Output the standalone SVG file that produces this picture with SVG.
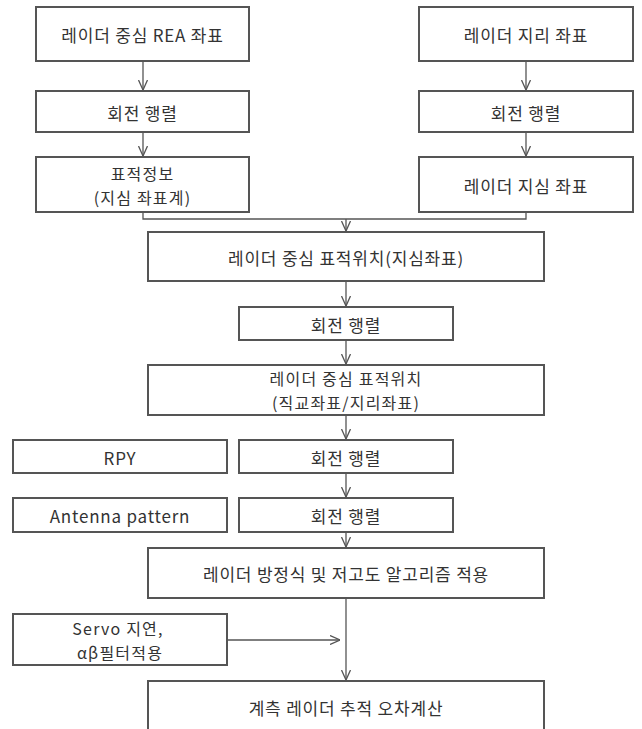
<svg xmlns="http://www.w3.org/2000/svg" width="642" height="729" viewBox="0 0 642 729">
<defs>
<marker id="arr" viewBox="0 0 10 10" refX="10" refY="5" markerWidth="10" markerHeight="10" markerUnits="userSpaceOnUse" orient="auto">
<path d="M0,0.5 L10,5 L0,9.5" fill="none" stroke="#555" stroke-width="1.3"/>
</marker>
<style>
.box{fill:#fff;stroke:#555;stroke-width:2}
.t{font-family:"Noto Sans CJK KR","Noto Sans",sans-serif;font-size:17px;letter-spacing:0.8px;fill:#333;text-anchor:middle;dominant-baseline:central}
.t2{font-size:16px;letter-spacing:1.2px}
.c{fill:none;stroke:#555;stroke-width:1.3}
.ca{fill:none;stroke:#555;stroke-width:1.3;marker-end:url(#arr)}
</style>
</defs>
<rect width="642" height="729" fill="#fff"/>
<g id="connectors">
<line class="ca" x1="143" y1="61" x2="143" y2="90"/>
<line class="ca" x1="143" y1="132" x2="143" y2="156"/>
<line class="ca" x1="526" y1="61" x2="526" y2="90"/>
<line class="ca" x1="526" y1="132" x2="526" y2="156"/>
<polyline class="c" points="143,212 143,219 526,219 526,212"/>
<line class="ca" x1="346" y1="219" x2="346" y2="231"/>
<line class="ca" x1="346" y1="281" x2="346" y2="306"/>
<line class="ca" x1="346" y1="340" x2="346" y2="364"/>
<line class="ca" x1="346" y1="415" x2="346" y2="439"/>
<line class="ca" x1="346" y1="473" x2="346" y2="497"/>
<line class="ca" x1="346" y1="532" x2="346" y2="547"/>
<line class="ca" x1="346" y1="598" x2="346" y2="680"/>
<line class="ca" x1="227" y1="640" x2="340" y2="640"/>
</g>
<g id="n1"><rect class="box" x="36" y="7" width="213" height="54"/><text class="t" x="142.5" y="34">레이더 중심 REA 좌표</text></g>
<g id="n2"><rect class="box" x="419" y="7" width="214" height="54"/><text class="t" x="526" y="34">레이더 지리 좌표</text></g>
<g id="n3"><rect class="box" x="36" y="91" width="213" height="41"/><text class="t" x="142.5" y="112">회전 행렬</text></g>
<g id="n4"><rect class="box" x="419" y="91" width="214" height="41"/><text class="t" x="526" y="112">회전 행렬</text></g>
<g id="n5"><rect class="box" x="36" y="157" width="213" height="55"/><text class="t t2" x="142.5" y="173">표적정보</text><text class="t t2" x="142.5" y="197">(지심 좌표계)</text></g>
<g id="n6"><rect class="box" x="419" y="157" width="214" height="55"/><text class="t" x="526" y="185">레이더 지심 좌표</text></g>
<g id="n7"><rect class="box" x="148" y="232" width="396" height="49"/><text class="t" x="346" y="257">레이더 중심 표적위치(지심좌표)</text></g>
<g id="n8"><rect class="box" x="239" y="307" width="214" height="33"/><text class="t" x="346" y="324">회전 행렬</text></g>
<g id="n9"><rect class="box" x="148" y="365" width="396" height="50"/><text class="t t2" x="346" y="378">레이더 중심 표적위치</text><text class="t t2" x="346" y="402">(직교좌표/지리좌표)</text></g>
<g id="n10"><rect class="box" x="13" y="440" width="214" height="33"/><text class="t" x="120" y="457">RPY</text></g>
<g id="n11"><rect class="box" x="239" y="440" width="214" height="33"/><text class="t" x="346" y="457">회전 행렬</text></g>
<g id="n12"><rect class="box" x="13" y="498" width="214" height="34"/><text class="t" x="120" y="515">Antenna pattern</text></g>
<g id="n13"><rect class="box" x="239" y="498" width="214" height="34"/><text class="t" x="346" y="515">회전 행렬</text></g>
<g id="n14"><rect class="box" x="148" y="548" width="396" height="50"/><text class="t" x="346" y="573">레이더 방정식 및 저고도 알고리즘 적용</text></g>
<g id="n15"><rect class="box" x="13" y="614" width="214" height="51"/><text class="t t2" x="118" y="628">Servo 지연,</text><text class="t t2" x="120" y="652">αβ필터적용</text></g>
<g id="n16"><rect class="box" x="148" y="681" width="396" height="70"/><text class="t" x="346" y="707">계측 레이더 추적 오차계산</text></g>
</svg>
